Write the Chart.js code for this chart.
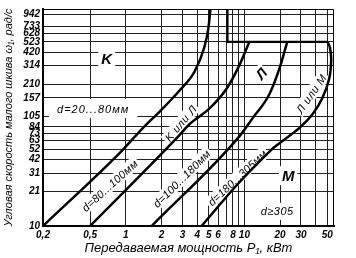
<!DOCTYPE html>
<html>
<head>
<meta charset="utf-8">
<style>
  html, body { margin: 0; padding: 0; background: #fff; }
</style>
</head>
<body>
<canvas id="belt-chart" width="356" height="258"></canvas>
<script src="https://cdn.jsdelivr.net/npm/chart.js@4.4.0/dist/chart.umd.min.js"></script>
<script>
// axis ticks (P1 in kW, omega1 in rad/s)
var powerGrid = [0.2, 0.5, 1, 2, 3, 4, 5, 6, 7, 8, 9, 10, 20, 30, 40, 50];
var powerLabels = [0.2, 0.5, 1, 2, 3, 4, 5, 6, 8, 10, 20, 30, 50];
var speedGrid = [10, 21, 31, 42, 52, 63, 73, 84, 105, 157, 210, 314, 420, 523, 628, 733, 942];

// boundary curves
var kP = [0.2, 0.92, 1.39, 1.93, 2.84, 3.79, 4.6, 4.98, 5.17];
var kW = [10, 50, 82, 117, 184, 275, 468, 714, 1060];

var klP = [0.5, 2.68, 3.44, 5.08, 7.07, 9.1, 11];
var klW = [10, 66, 89, 125, 191, 319, 523];

var lP = [1.65, 9.1, 11.7, 16.2, 19.7, 23];
var lW = [10, 69, 101, 169, 293, 523];

var lmP = [4.35, 8.6, 17.2, 20.9, 29, 37.4, 45.3, 51.9, 54, 52.5, 50.3];
var lmW = [10, 24, 52.5, 62, 82, 110, 155, 237, 362, 468, 523];

// upper limit of the zones
var limP = [7.2, 7.2, 50.3];
var limW = [1060, 523, 523];

var FONT = "'Liberation Sans', 'DejaVu Sans', sans-serif";

function pts(xs, ys) {
  return xs.map(function (x, i) { return { x: x, y: ys[i] }; });
}

function curve(xs, ys, w, mode, t) {
  return {
    data: pts(xs, ys),
    showLine: true,
    borderColor: '#000',
    borderWidth: w,
    pointRadius: 0,
    cubicInterpolationMode: mode,
    tension: t,
    fill: false
  };
}

// text inside the plot, anchored in data space
var notes = [
  { text: 'K', p: 0.69, w: 362, rot: 0, size: 15, bold: true, padX: 3, padY: 2 },
  { text: 'd=20...80мм', p: 0.53, w: 125, rot: 0, size: 11, sp: 1, padX: 8, padY: 4 },
  { text: 'K или Л', p: 2.9, w: 91, rot: -50, size: 11, sp: 0.5, padX: 2, padY: 1 },
  { text: 'd=80...100мм', p: 0.73, w: 23.9, rot: -42, size: 11, sp: 0.3, padX: 2, padY: 1 },
  { text: 'd=100...180мм', p: 2.95, w: 27.7, rot: -45, size: 11, sp: 0.2, padX: 2, padY: 1 },
  { text: 'd=180...305мм', p: 8.7, w: 28.3, rot: -43, size: 11, sp: 0.2, padX: 2, padY: 1 },
  { text: 'Л', p: 13.9, w: 264, rot: -50, size: 14, bold: true, padX: 2, padY: 1 },
  { text: 'Л или М', p: 36.6, w: 172, rot: -55, size: 11, sp: 0.5, padX: 2, padY: 1 },
  { text: 'М', p: 23.4, w: 29.5, rot: 0, size: 15, bold: true, padX: 3, padY: 2 },
  { text: 'd≥305', p: 18.9, w: 13.7, rot: 0, size: 11, sp: 0.5, padX: 4, padY: 3 }
];

var notesPlugin = {
  id: 'notes',
  beforeDatasetsDraw: function (chart) {
    var ctx = chart.ctx, sx = chart.scales.x, sy = chart.scales.y;
    notes.forEach(function (n) {
      var px = sx.getPixelForValue(n.p), py = sy.getPixelForValue(n.w);
      ctx.save();
      ctx.translate(px, py);
      ctx.rotate(n.rot * Math.PI / 180);
      ctx.font = 'italic ' + (n.bold ? 'bold ' : '') + n.size + 'px ' + FONT;
      ctx.letterSpacing = (n.sp || 0) + 'px';
      var tw = ctx.measureText(n.text).width;
      ctx.fillStyle = '#fff';
      ctx.fillRect(-tw / 2 - n.padX, -n.size / 2 - n.padY, tw + 2 * n.padX, n.size + 2 * n.padY);
      ctx.fillStyle = '#000';
      ctx.textAlign = 'center';
      ctx.textBaseline = 'middle';
      ctx.fillText(n.text, 0, 1);
      ctx.restore();
    });
  },
  afterDatasetsDraw: function (chart) {
    var a = chart.chartArea, ctx = chart.ctx;
    ctx.save();
    ctx.strokeStyle = '#000';
    ctx.lineWidth = 1;
    ctx.beginPath();
    ctx.moveTo(a.left, a.top + 0.5);
    ctx.lineTo(a.right - 0.5, a.top + 0.5);
    ctx.lineTo(a.right - 0.5, a.bottom);
    ctx.stroke();
    ctx.restore();
  }
};

var tickFont = { family: FONT, size: 10, style: 'italic', weight: 'bold' };

new Chart(document.getElementById('belt-chart'), {
  type: 'scatter',
  data: {
    datasets: [
      curve(kP, kW, 2.5, 'monotone', 0),
      curve(klP, klW, 2.5, 'monotone', 0),
      curve(lP, lW, 2.5, 'monotone', 0),
      curve(lmP, lmW, 2.5, 'default', 0.2),
      curve(limP, limW, 2.2, 'default', 0)
    ]
  },
  options: {
    responsive: false,
    animation: false,
    devicePixelRatio: 1,
    layout: { padding: { left: 0, right: 22, top: 6, bottom: 0 } },
    plugins: { legend: { display: false }, tooltip: { enabled: false } },
    scales: {
      x: {
        type: 'logarithmic',
        min: 0.2,
        max: 57,
        afterBuildTicks: function (s) { s.ticks = powerGrid.map(function (v) { return { value: v }; }); },
        afterFit: function (s) { s.height = 32; },
        grid: { color: '#222', lineWidth: 1, drawTicks: false },
        border: { color: '#000', width: 2 },
        ticks: {
          autoSkip: false, maxRotation: 0, padding: 3, color: '#000', font: tickFont,
          callback: function (v) { return powerLabels.indexOf(v) >= 0 ? String(v).replace('.', ',') : ''; }
        },
        title: {
          display: true, text: 'Передаваемая мощность P₁, кВт', color: '#000',
          font: { family: FONT, size: 13, style: 'italic' }, padding: { top: 0, bottom: 2 }
        }
      },
      y: {
        type: 'logarithmic',
        min: 10,
        max: 1060,
        afterBuildTicks: function (s) { s.ticks = speedGrid.map(function (v) { return { value: v }; }); },
        afterFit: function (s) { s.width = 43; },
        grid: { color: '#222', lineWidth: 1, drawTicks: false },
        border: { color: '#000', width: 2 },
        ticks: {
          autoSkip: false, padding: 3, color: '#000', font: tickFont,
          callback: function (v) { return String(v); }
        },
        title: {
          display: true, text: 'Угловая скорость малого шкива ω₁, рад/с', color: '#000',
          font: { family: FONT, size: 11, style: 'italic' }, padding: { top: 2, bottom: 0 }
        }
      }
    }
  },
  plugins: [notesPlugin]
});
</script>
</body>
</html>
